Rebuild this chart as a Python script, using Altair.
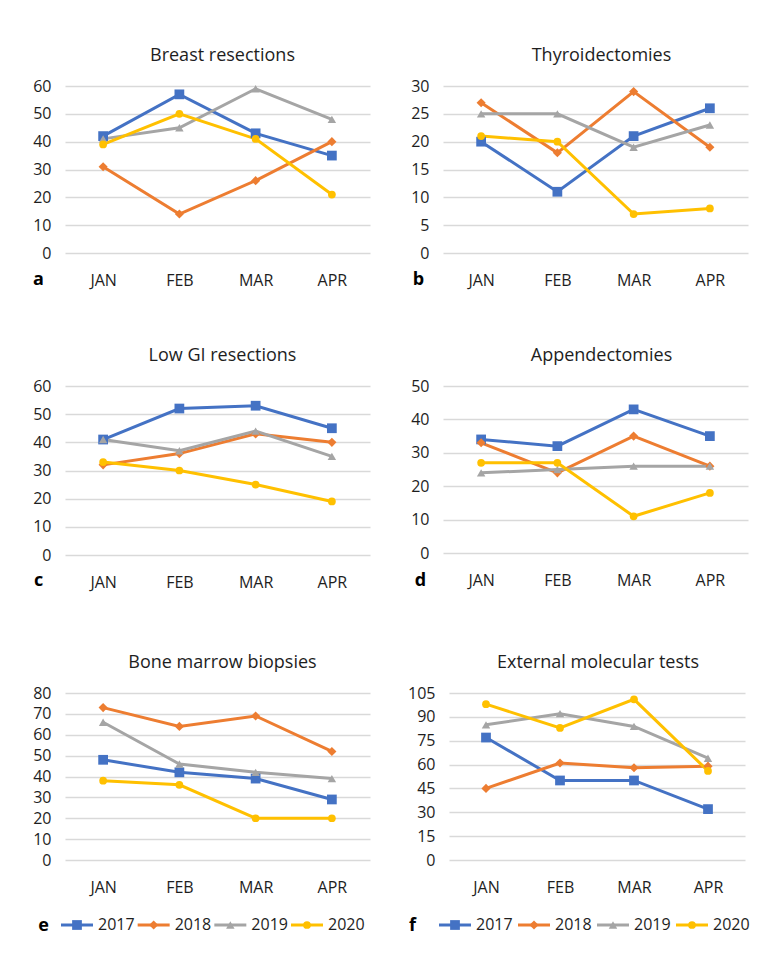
import altair as alt
import pandas as pd

months = ["JAN", "FEB", "MAR", "APR"]
years = ["2017", "2018", "2019", "2020"]
colors = ["#4472C4", "#ED7D31", "#A5A5A5", "#FFC000"]
shapes = ["square", "diamond", "triangle-up", "circle"]
marker_sizes = [95, 60, 95, 105]

# a Breast resections
breast_2017 = [42, 57, 43, 35]
breast_2018 = [31, 14, 26, 40]
breast_2019 = [41, 45, 59, 48]
breast_2020 = [39, 50, 41, 21]
breast_ticks = [0, 10, 20, 30, 40, 50, 60]

# b Thyroidectomies
thyro_2017 = [20, 11, 21, 26]
thyro_2018 = [27, 18, 29, 19]
thyro_2019 = [25, 25, 19, 23]
thyro_2020 = [21, 20, 7, 8]
thyro_ticks = [0, 5, 10, 15, 20, 25, 30]

# c Low GI resections
lowgi_2017 = [41, 52, 53, 45]
lowgi_2018 = [32, 36, 43, 40]
lowgi_2019 = [41, 37, 44, 35]
lowgi_2020 = [33, 30, 25, 19]
lowgi_ticks = [0, 10, 20, 30, 40, 50, 60]

# d Appendectomies
append_2017 = [34, 32, 43, 35]
append_2018 = [33, 24, 35, 26]
append_2019 = [24, 25, 26, 26]
append_2020 = [27, 27, 11, 18]
append_ticks = [0, 10, 20, 30, 40, 50]

# e Bone marrow biopsies
bone_2017 = [48, 42, 39, 29]
bone_2018 = [73, 64, 69, 52]
bone_2019 = [66, 46, 42, 39]
bone_2020 = [38, 36, 20, 20]
bone_ticks = [0, 10, 20, 30, 40, 50, 60, 70, 80]

# f External molecular tests
molec_2017 = [77, 50, 50, 32]
molec_2018 = [45, 61, 58, 59]
molec_2019 = [85, 92, 84, 64]
molec_2020 = [98, 83, 101, 56]
molec_ticks = [0, 15, 30, 45, 60, 75, 90, 105]

FONT = "Open Sans"
TXT = "#1e1e1e"


def panel(title, letter, series, ticks, width, height, title_dx,
          letter_x, letter_y, legend_range=None):
    rows = []
    for y, vals in zip(years, series):
        for m, v in zip(months, vals):
            rows.append({"month": m, "year": y, "value": v})
    df = pd.DataFrame(rows)

    x = alt.X("month:N", sort=months,
              scale=alt.Scale(type="point", padding=0.5),
              axis=alt.Axis(title=None, labelAngle=0, domain=False, ticks=False,
                            grid=False, labelPadding=19, labelFontSize=16,
                            labelFont=FONT, labelColor=TXT))
    y = alt.Y("value:Q", scale=alt.Scale(domain=[0, max(ticks)], nice=False, zero=True),
              axis=alt.Axis(values=ticks, title=letter, titleAngle=0,
                            titleX=letter_x, titleY=letter_y,
                            titleAlign="center", titleBaseline="middle",
                            titleFontWeight="bold", titleFontSize=18,
                            titleFont=FONT, titleColor="#000000",
                            domain=False, ticks=False, labelPadding=14,
                            labelFontSize=16, labelFont=FONT, labelColor=TXT,
                            grid=True, gridColor="#D9D9D9", gridWidth=1.3))
    color = alt.Color("year:N", scale=alt.Scale(domain=years, range=colors), legend=None)
    shape = alt.Shape("year:N", scale=alt.Scale(domain=years, range=shapes), legend=None)
    size = alt.Size("year:N", scale=alt.Scale(domain=years, range=marker_sizes), legend=None)

    base = alt.Chart(df)
    lines = base.transform_calculate(
        month_idx="indexof(['JAN','FEB','MAR','APR'], datum.month)"
    ).mark_line(strokeWidth=3).encode(x=x, y=y, color=color,
                                      order=alt.Order("month_idx:Q"))
    points = base.mark_point(filled=True, opacity=1).encode(
        x=x, y=y, color=color, shape=shape, size=size)

    main = alt.layer(lines, points)
    if legend_range is not None:
        ldf = pd.DataFrame({"year": years})
        lx = alt.X("year:N", scale=alt.Scale(type="point", domain=years,
                                             range=legend_range, padding=0),
                   axis=None)
        ly = alt.value(letter_y)
        lbase = alt.Chart(ldf)
        lrule = lbase.mark_rule(strokeWidth=3, xOffset=-16, x2Offset=16).encode(
            x=lx, x2=alt.X2("year"), y=ly, color=color)
        lpts = lbase.mark_point(filled=True, opacity=1).encode(
            x=lx, y=ly, color=color, shape=shape, size=size)
        ltxt = lbase.mark_text(align="left", baseline="middle", dx=21, fontSize=16,
                               font=FONT, color=TXT).encode(x=lx, y=ly, text="year:N")
        leg = alt.layer(lrule, lpts, ltxt)
        ch = alt.layer(main, leg).resolve_scale(x="independent")
    else:
        ch = main
    return ch.properties(
        width=width, height=height,
        title=alt.TitleParams(text=title, fontSize=18, fontWeight="normal", font=FONT,
                              color=TXT, offset=13, dx=title_dx, anchor="middle"))


a = panel("Breast resections", "a", [breast_2017, breast_2018, breast_2019, breast_2020],
          breast_ticks, 305, 167, 5, -27, 193)
b = panel("Thyroidectomies", "b", [thyro_2017, thyro_2018, thyro_2019, thyro_2020],
          thyro_ticks, 305, 167, 6, -25, 193)
c = panel("Low GI resections", "c", [lowgi_2017, lowgi_2018, lowgi_2019, lowgi_2020],
          lowgi_ticks, 305, 169, 5, -27, 194)
d = panel("Appendectomies", "d", [append_2017, append_2018, append_2019, append_2020],
          append_ticks, 305, 167, 6, -23, 194)
e = panel("Bone marrow biopsies", "e", [bone_2017, bone_2018, bone_2019, bone_2020],
          bone_ticks, 305, 167, 5, -22, 232, legend_range=[12, 242])
f = panel("External molecular tests", "f", [molec_2017, molec_2018, molec_2019, molec_2020],
          molec_ticks, 296, 167, 1, -37, 232, legend_range=[6, 243])

chart = alt.concat(
    alt.vconcat(
        alt.hconcat(a, b, spacing=40),
        alt.hconcat(c, d, spacing=40),
        spacing=59,
    ),
    alt.hconcat(e, f, spacing=37),
    columns=1,
    spacing=64,
    align="none",
).properties(
    padding={"left": 24, "top": 39, "right": 5, "bottom": 5}
).configure(background="white").configure_view(stroke=None)

chart.save("out.html", embed_options={"renderer": "svg", "actions": False})
